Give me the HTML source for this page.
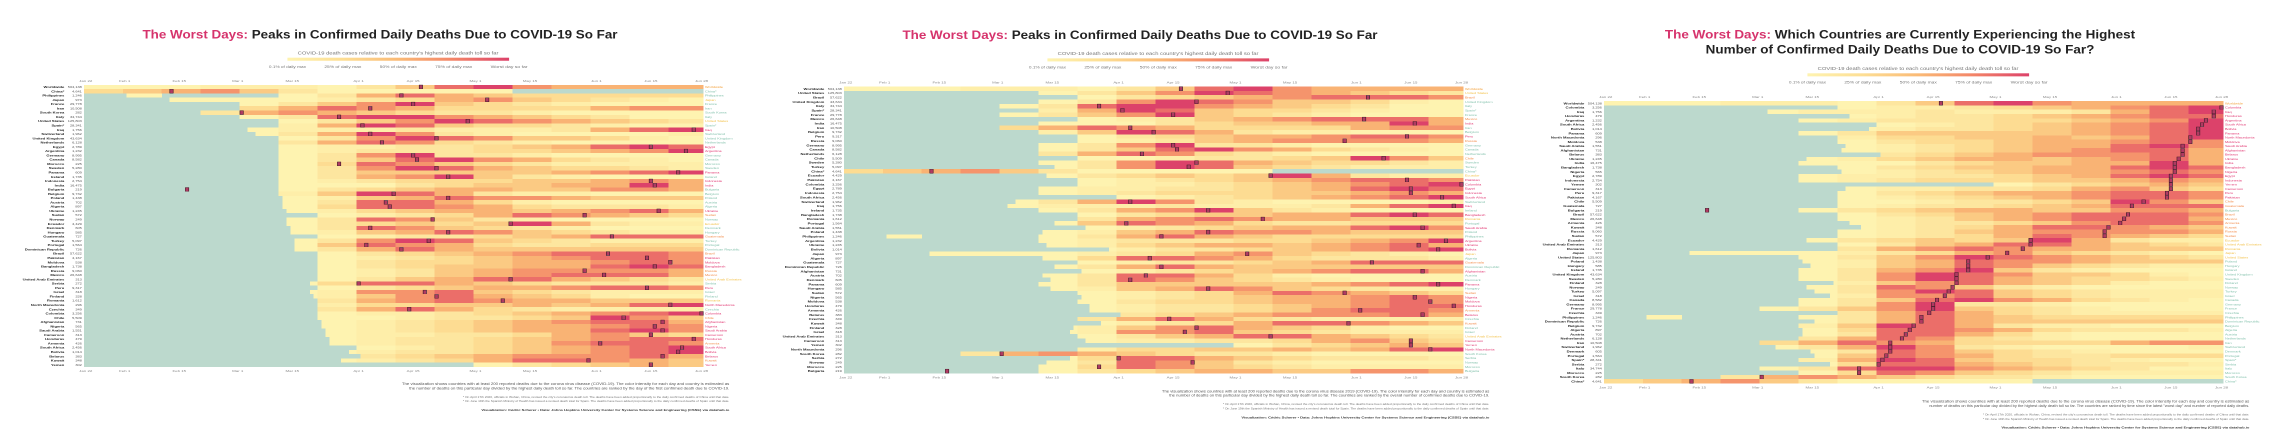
<!DOCTYPE html>
<html><head><meta charset="utf-8">
<style>
html,body{margin:0;padding:0;background:#fff;}
body{width:2280px;height:448px;overflow:hidden;position:relative;}
svg{position:absolute;top:0;}
text{font-family:"Liberation Sans",sans-serif;}
</style></head>
<body>
<svg id="p1" style="left:0" width="760" height="448" viewBox="0 0 1560 1320" preserveAspectRatio="none"></svg>
<svg id="p2" style="left:760px" width="760" height="448" viewBox="0 0 1560 1320" preserveAspectRatio="none"></svg>
<svg id="p3" style="left:1520px" width="760" height="448" viewBox="0 0 1560 1320" preserveAspectRatio="none"></svg>
<script>
const countries=["Worldwide","China*","Philippines","Japan","France","Iran","South Korea","Italy","United States","Spain*","Iraq","Switzerland","United Kingdom","Netherlands","Egypt","Argentina","Germany","Canada","Morocco","Sweden","Panama","Ireland","Indonesia","India","Bulgaria","Belgium","Poland","Austria","Algeria","Ukraine","Sudan","Norway","Ecuador","Denmark","Hungary","Guatemala","Turkey","Portugal","Dominican Republic","Brazil","Pakistan","Moldova","Bangladesh","Russia","Mexico","United Arab Emirates","Serbia","Peru","Israel","Finland","Romania","North Macedonia","Czechia","Colombia","Chile","Afghanistan","Nigeria","Saudi Arabia","Cameroon","Honduras","Armenia","South Africa","Bolivia","Belarus","Kuwait","Yemen"];
const totals=["504,138","4,641","1,246","973","29,778","10,508","282","34,744","125,803","28,341","1,756","1,962","43,634","6,128","2,789","1,232","8,995","8,582","225","5,280","609","1,735","2,754","16,475","219","9,732","1,438","702","897","1,245","572","249","4,429","605","585","727","5,097","1,564","726","57,622","4,167","538","1,738","9,060","26,648","313","272","9,317","318","328","1,612","296","349","3,256","5,509","731","565","1,551","313","479","426","2,456","1,014","383","348","302"];
const startDays=[0,0,11,22,24,28,29,30,38,41,42,44,44,45,46,46,48,48,49,49,49,50,50,50,50,50,51,51,51,52,52,52,52,53,53,54,54,54,54,55,55,56,56,56,57,58,58,58,58,59,60,60,60,60,60,61,61,62,62,63,63,65,68,71,66,98];
const peakDays=[86,22,81,103,84,73,40,65,98,71,156,73,90,76,145,154,84,85,65,90,152,93,145,146,26,79,93,77,78,147,128,89,109,73,93,135,88,72,81,134,144,150,146,128,133,109,70,144,87,90,107,150,83,158,138,148,146,148,145,156,132,153,152,148,129,145];
const profiles=["1112221358976666","4567531111100000","0100013686544444","0011112346754321","0000135795432111","0000468764444677","0003676543321111","0000138997654311","0000013579876543","0000026985443211","0000122232223689","0000136973211112","0000013798755421","0000036874321111","0000012233456898","0000012333445679","0000013793321111","0000013589764321","0000014875432222","0000013798654432","0000013555556789","0000013679532111","0000012344455676","0000011134556696","0000013456655776","0000025986322111","0000012568776555","0000013886421111","0000014887643332","0000012456656786","0000001234687654","0000013875321111","0000013454596322","0000013875432111","0000012568754322","0000001233456888","0000013798543222","0000015876433444","0000013686555555","0000001345678887","0000001234567887","0000001344566787","0000001345566898","0000001235677776","0000001235678886","0000001356886543","0000014886543332","0000001345667887","0000012778543222","0000012578654211","0000013678766555","0000012445565689","0000013686432222","0000001223456789","0000001123345975","0000001234567886","0000001234566787","0000001234566897","0000001223346754","0000001233456788","0000001233457887","0000000123456789","0000001233456789","0000000345677786","0000001234688765","0000000000134565"];
const order1=countries.slice();
const order2=["Worldwide","United States","Brazil","United Kingdom","Italy","Spain*","France","Mexico","India","Iran","Belgium","Peru","Russia","Germany","Canada","Netherlands","Chile","Sweden","Turkey","China*","Ecuador","Pakistan","Colombia","Egypt","Indonesia","South Africa","Switzerland","Iraq","Ireland","Bangladesh","Romania","Portugal","Saudi Arabia","Poland","Philippines","Argentina","Ukraine","Bolivia","Japan","Algeria","Guatemala","Dominican Republic","Afghanistan","Austria","Denmark","Panama","Hungary","Sudan","Nigeria","Moldova","Honduras","Armenia","Belarus","Czechia","Kuwait","Finland","Israel","United Arab Emirates","Cameroon","Yemen","North Macedonia","South Korea","Serbia","Norway","Morocco","Bulgaria"];
const order3=["Worldwide","Colombia","Iraq","Honduras","Argentina","South Africa","Bolivia","Panama","North Macedonia","Moldova","Saudi Arabia","Afghanistan","Belarus","Ukraine","India","Bangladesh","Nigeria","Egypt","Indonesia","Yemen","Cameroon","Peru","Pakistan","Chile","Guatemala","Bulgaria","Brazil","Mexico","Armenia","Kuwait","Russia","Sudan","Ecuador","United Arab Emirates","Romania","Japan","United States","Poland","Hungary","Ireland","United Kingdom","Sweden","Finland","Norway","Turkey","Israel","Canada","Germany","France","Czechia","Philippines","Dominican Republic","Belgium","Algeria","Austria","Netherlands","Iran","Switzerland","Denmark","Portugal","Spain*","Serbia","Italy","Morocco","South Korea","China*"];
const tickLabels=["Jan 22","Feb 1","Feb 15","Mar 1","Mar 15","Apr 1","Apr 15","May 1","May 15","Jun 1","Jun 15","Jun 28"];
const tickDays=[0,10,24,39,53,70,84,100,114,131,145,158];
const legendLabels=["0.1% of daily max","25% of daily max","50% of daily max","75% of daily max","Worst day so far"];
const NDAYS=159;

const NS="http://www.w3.org/2000/svg";
function mk(parent,tag,attrs,txt){const e=document.createElementNS(NS,tag);for(const k in attrs)e.setAttribute(k,attrs[k]);if(txt!==undefined)e.textContent=txt;parent.appendChild(e);return e;}
const x0=172,cw=8;
function xScale(d){return x0+d*cw;}
const stops=[[254,243,176],[253,222,148],[250,186,118],[243,132,104],[220,66,106]];
function colorFor(l){
 if(l<=0)return "#bcd9cd";
 const t=Math.pow((l-1)/8,1.35)*4;const i=Math.min(3,Math.floor(t));const f=t-i;
 const a=stops[i],b=stops[i+1];
 return "rgb("+a.map((v,k)=>Math.round(v+(b[k]-v)*f)).join(",")+")";
}
function labelColor(p){if(p>=140)return "#e0336f";if(p>=120)return "#f28c4a";if(p>=95)return "#f2c14a";return "#7fbfa9";}

function panel(id,cfg){
 const s=document.getElementById(id);
 const tg=mk(s,"g",{});
 
 
 cfg.title.forEach((ln,i)=>{
  const t=mk(tg,"text",{x:780,y:cfg.titleY+i*44,"text-anchor":"middle","font-size":36,"font-weight":"bold",fill:"#222",textLength:ln[2],lengthAdjust:"spacingAndGlyphs"});
  if(ln[0]){mk(t,"tspan",{fill:"#d6336c"},ln[0]);}
  mk(t,"tspan",{},ln[1]);
 });
 const ly=cfg.legY;
 const lt=mk(s,"text",{x:817,y:ly,"text-anchor":"middle","font-size":13,fill:"#777",textLength:412,lengthAdjust:"spacingAndGlyphs"},"COVID-19 death cases relative to each country's highest daily death toll so far");
 
 
 const defs=mk(s,"defs",{});
 const gr=mk(defs,"linearGradient",{id:"g"+id});
 stops.forEach((c,i)=>mk(gr,"stop",{offset:(i*25)+"%","stop-color":"rgb("+c.join(",")+")"}));
 const bar=mk(s,"rect",{x:590,y:ly+10,width:455,height:9,fill:"url(#g"+id+")"});
 
 
 legendLabels.forEach((l,i)=>{
  const e=mk(s,"text",{x:590+i*113.75,y:ly+40,"text-anchor":"middle","font-size":10,fill:"#777",textLength:76,lengthAdjust:"spacingAndGlyphs"},l);
  
  
 });
 const top=cfg.top,bot=cfg.bottom,n=cfg.order.length,rh=(bot-top)/n;
 tickLabels.forEach((l,i)=>{
  const x=xScale(tickDays[i])+4;
  const a=mk(s,"text",{x:x,y:top-9,"text-anchor":"middle","font-size":9,fill:"#888"},l);
  
  
  const b=mk(s,"text",{x:x,y:bot+15,"text-anchor":"middle","font-size":9,fill:"#888"},l);
  
  
 });
 const hm=mk(s,"g",{"shape-rendering":"crispEdges"});
 
 
 cfg.order.forEach((name,r)=>{
  const ci=countries.indexOf(name);
  const y=top+r*rh;
  const st=startDays[ci],pk=peakDays[ci],pr=profiles[ci];
  const row=mk(hm,"g",{});
  
  
  mk(row,"rect",{x:x0,y:y,width:NDAYS*cw,height:rh+0.4,fill:"#bcd9cd"});
  for(let d=st;d<NDAYS;d++){
   if(d===pk)continue;
   const l=+pr[Math.min(15,Math.floor(d/10))];
   if(l===0)continue;
   mk(row,"rect",{x:xScale(d),y:y,width:cw+0.4,height:rh+0.4,fill:colorFor(l)});
  }
  const pc=mk(row,"rect",{x:xScale(pk)+0.5,y:y+0.5,width:cw-1,height:rh-1,fill:"#b03a62",stroke:"#3a1a25","stroke-width":1.2});
  
  
  const ln=mk(s,"text",{x:132,y:y+rh*0.75,"text-anchor":"end","font-size":8.5,"font-weight":"bold",fill:"#222"},name);
  
  
  const tv=mk(s,"text",{x:168,y:y+rh*0.75,"text-anchor":"end","font-size":8,fill:"#555"},totals[ci]);
  
  
  const rl=mk(s,"text",{x:1447,y:y+rh*0.75,"font-size":8,fill:name==="Worldwide"?"#f2a03a":labelColor(pk)},name);
  
  
 });
 const c=cfg.cap;
 const cap=mk(s,"g",{});
 
 
 mk(cap,"text",{x:1497,y:c,"text-anchor":"end","font-size":10,fill:"#555",textLength:672,lengthAdjust:"spacingAndGlyphs"},cfg.cap1);
 mk(cap,"text",{x:1497,y:c+13,"text-anchor":"end","font-size":10,fill:"#555",textLength:657,lengthAdjust:"spacingAndGlyphs"},cfg.cap2);
 mk(cap,"text",{x:1497,y:c+38,"text-anchor":"end","font-size":7,fill:"#777",textLength:547,lengthAdjust:"spacingAndGlyphs"},"* On April 17th 2020, officials in Wuhan, China, revised the city's coronavirus death toll. The deaths have been added proportionally to the daily confirmed deaths of China until that date.");
 mk(cap,"text",{x:1497,y:c+51,"text-anchor":"end","font-size":7,fill:"#777",textLength:547,lengthAdjust:"spacingAndGlyphs"},"* On June 19th the Spanish Ministry of Health has issued a revised death total for Spain. The deaths have been added proportionally to the daily confirmed deaths of Spain until that date.");
 const cr=mk(s,"text",{x:1497,y:c+77,"text-anchor":"end","font-size":9,"font-weight":"bold",fill:"#333",textLength:509,lengthAdjust:"spacingAndGlyphs"},"Visualization: Cédric Scherer • Data: Johns Hopkins University Center for Systems Science and Engineering (CSSE) via datahub.io");
 
 
}
const capA="The visualization shows countries with at least 200 reported deaths due to the corona virus disease (COVID-19). The color intensity for each day and country is estimated as";
panel("p1",{title:[["The Worst Days:"," Peaks in Confirmed Daily Deaths Due to COVID-19 So Far",975]],titleY:113,legY:160,top:250,bottom:1081,order:order1,cap:1134,cap1:capA,cap2:"the number of deaths on this particular day divided by the highest daily death toll so far. The countries are ranked by the day of the first confirmed death due to COVID-19."});
panel("p2",{title:[["The Worst Days:"," Peaks in Confirmed Daily Deaths Due to COVID-19 So Far",975]],titleY:115,legY:162,top:255,bottom:1100,order:order2,cap:1156,cap1:"The visualization shows countries with at least 200 reported deaths due to the corona virus disease 2019 (COVID-19). The color intensity for each day and country is estimated as",cap2:"the number of deaths on this particular day divided by the highest daily death toll so far. The countries are ranked by the overall number of confirmed deaths due to COVID-19."});
panel("p3",{title:[["The Worst Days:"," Which Countries are Currently Experiencing the Highest",965],[""," Number of Confirmed Daily Deaths Due to COVID-19 So Far?",798]],titleY:113,legY:206,top:298,bottom:1130,order:order3,cap:1186,cap1:capA,cap2:"number of deaths on this particular day divided by the highest daily death toll so far. The countries are ranked by time since the latest \"worst day\" and number of reported daily deaths."});
</script>
</body></html>
